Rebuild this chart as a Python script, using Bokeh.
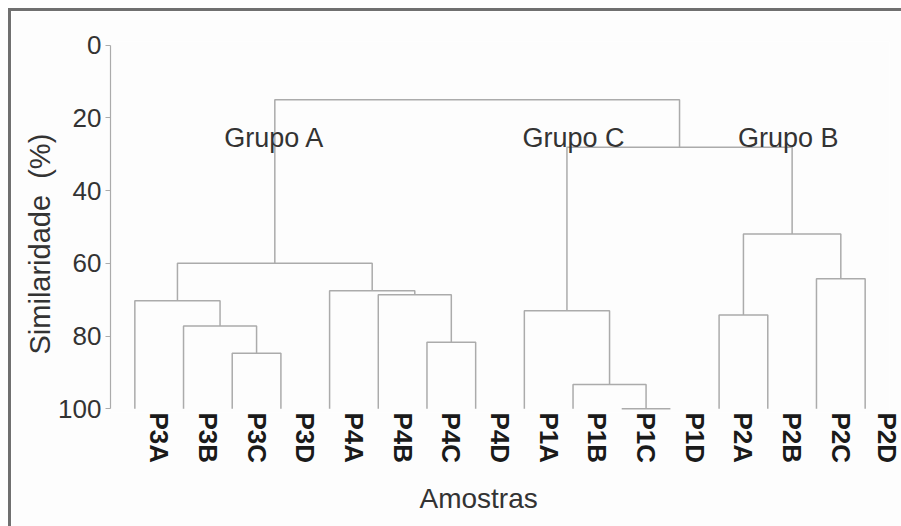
import math
from bokeh.plotting import figure
from bokeh.models import Range1d, FixedTicker, ColumnDataSource, Title
from bokeh.core.properties import value
from bokeh.embed import file_html
from bokeh.resources import INLINE

# ---- data ----
samples = ["P3A", "P3B", "P3C", "P3D", "P4A", "P4B", "P4C", "P4D",
           "P1A", "P1B", "P1C", "P1D", "P2A", "P2B", "P2C", "P2D"]
# linkage: node ids 0..15 are leaves, new clusters get ids 16, 17, ...
merge_left = [2, 1, 0, 6, 5, 4, 18, 10, 9, 8, 12, 14, 26, 25, 22]
merge_right = [3, 16, 17, 7, 19, 20, 21, 11, 23, 24, 13, 15, 27, 28, 29]
merge_similarity = [84.7, 77.2, 70.3, 81.7, 68.6, 67.5, 60.0,
                    100.0, 93.3, 73.0, 74.2, 64.2, 51.9, 28.1, 15.0]
group_names = ["Grupo A", "Grupo C", "Grupo B"]
y_ticks = [0, 20, 40, 60, 80, 100]

# ---- dendrogram layout ----
node_x = [float(i) for i in range(len(samples))]
node_y = [100.0] * len(samples)
xs, ys = [], []
for l, r, s in zip(merge_left, merge_right, merge_similarity):
    xl, yl = node_x[l], node_y[l]
    xr, yr = node_x[r], node_y[r]
    xs.append([xl, xl, xr, xr])
    ys.append([yl, s, s, yr])
    node_x.append((xl + xr) / 2.0)
    node_y.append(s)

FONT = "Liberation Sans"
TXT = "#333333"
LINE = "#ababab"

p = figure(width=890, height=515, output_backend="svg", toolbar_location=None,
           x_range=Range1d(-0.5, 15.5), y_range=Range1d(101, -1),
           min_border_left=99, min_border_right=15, min_border_top=30,
           min_border_bottom=117)
p.margin = (8, 0, 0, 8)
p.styles = {"border-top": "3px solid #707070", "border-left": "3px solid #707070",
            "border-right": "0px none transparent", "border-bottom": "0px none transparent",
            "box-sizing": "content-box", "outline": "none", "box-shadow": "none"}
p.outline_line_color = None
p.background_fill_color = "#fdfdfd"
p.border_fill_color = "#fdfdfd"
p.xgrid.visible = False
p.ygrid.visible = False

p.multi_line(xs=xs, ys=ys, line_color=LINE, line_width=1.5)

# y axis
ya = p.yaxis[0]
ya.ticker = FixedTicker(ticks=y_ticks)
ya.bounds = (0, 100)
ya.axis_line_color = LINE
ya.axis_line_width = 1.2
ya.major_tick_line_color = LINE
ya.major_tick_out = 5
ya.major_tick_in = 0
ya.minor_tick_line_color = None
ya.minor_tick_out = 0
ya.minor_tick_in = 0
ya.major_label_text_font = FONT
ya.major_label_text_font_size = "26px"
ya.major_label_text_color = TXT
ya.major_label_standoff = 4

# x axis (sample names)
tick_pos = [i + 0.5 for i in range(len(samples))]
xa = p.xaxis[0]
xa.ticker = FixedTicker(ticks=tick_pos)
xa.major_label_overrides = {t: s for t, s in zip(tick_pos, samples)}
xa.major_label_orientation = -math.pi / 2
xa.axis_line_color = None
xa.major_tick_line_color = None
xa.minor_tick_line_color = None
xa.major_tick_out = 0
xa.major_tick_in = 0
xa.minor_tick_out = 0
xa.minor_tick_in = 0
xa.major_label_text_font = FONT
xa.major_label_text_font_size = "26px"
xa.major_label_text_font_style = "bold"
xa.major_label_text_color = "#1a1a1a"
xa.major_label_standoff = 0

# group labels
grp = ColumnDataSource(dict(x=[2.87, 9.01, 13.42], y=[25.4, 25.4, 25.4], t=group_names))
p.text(x="x", y="y", text="t", source=grp, text_font=value(FONT),
       text_font_size="27px", text_color=TXT, text_align="center",
       text_baseline="alphabetic")

# axis titles
p.add_layout(Title(text="Similaridade \u00a0(%)", align="left", offset=58, standoff=0,
                   text_font=FONT, text_font_size="29px", text_color=TXT,
                   text_font_style="normal"), "left")
p.add_layout(Title(text="Amostras", align="left", offset=309, standoff=29,
                   text_font=FONT, text_font_size="28px", text_color=TXT,
                   text_font_style="normal"), "below")

open("out.html", "w").write(file_html(p, INLINE))
